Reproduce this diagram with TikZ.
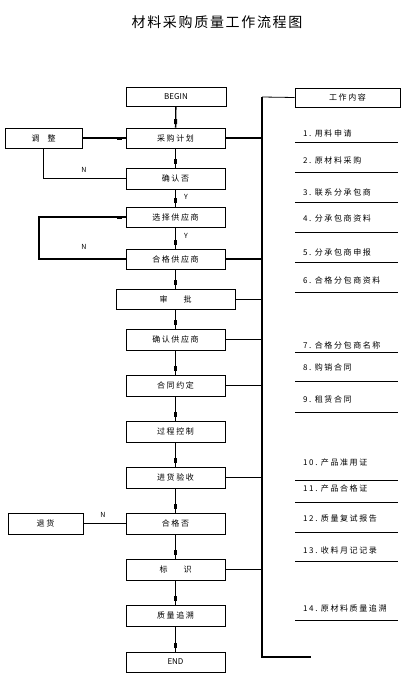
\documentclass[tikz,border=0pt]{standalone}
\usepackage{fontspec}
\setmainfont{Noto Sans CJK SC}
\newfontfamily\cjk[LetterSpace=20]{Noto Sans CJK SC}
\newfontfamily\cjktitle[LetterSpace=12]{Noto Sans CJK SC}
\usetikzlibrary{arrows.meta,positioning,decorations.markings}
\tikzset{
  box/.style={draw,line width=0.8pt,minimum width=99pt,minimum height=20pt,inner sep=1pt,font=\cjk\fontsize{8}{9}\selectfont},
  endbox/.style={box,font=\fontsize{8}{9}\selectfont},
  flow/.style={line width=1.3pt,postaction={decorate},
    decoration={markings,mark=at position -6pt with {\fill (-2.5pt,-1.5pt) rectangle (2.5pt,1.5pt);}}},
  link/.style={line width=1.6pt},
  thinlink/.style={line width=0.8pt},
  yn/.style={font=\fontsize{7}{8}\selectfont,inner sep=0pt},
  item/.style={anchor=west,inner sep=0pt,font=\cjk\fontsize{8}{9}\selectfont}
}

\begin{document}
\begin{tikzpicture}[x=1pt,y=-1pt]
\useasboundingbox (0,0) rectangle (405,690);
\node[font=\cjktitle\fontsize{14}{16}\selectfont] (title) at (217,22) {材料采购质量工作流程图};

% main flow
\node[endbox,minimum width=100pt,minimum height=19pt] (begin) at (176,97) {BEGIN};
\node[box] (plan) at (175.5,138) {采购计划};
\node[box,minimum width=77pt] (adjust) at (43.5,138) {调\quad 整};
\node[box,minimum height=21pt] (confirm) at (175.5,178.5) {确认否};
\node[box] (select) at (175.5,217) {选择供应商};
\node[box] (qualified) at (175.5,259) {合格供应商};
\node[box,minimum width=119pt] (approve) at (175.5,299) {审\qquad 批};
\node[box,minimum height=21pt] (confsup) at (175.5,339.5) {确认供应商};
\node[box,minimum height=21pt] (contract) at (175.5,385.5) {合同约定};
\node[box,minimum height=21pt] (process) at (175.5,431.5) {过程控制};
\node[box,minimum height=21pt] (receive) at (175.5,477.5) {进货验收};
\node[box,minimum height=21pt] (pass) at (175.5,523.5) {合格否};
\node[box,minimum width=75pt,minimum height=21pt] (goback) at (45.5,523.5) {退货};
\node[box,minimum height=21pt] (ident) at (175.5,569.5) {标\qquad 识};
\node[box,minimum height=21pt] (trace) at (175.5,615.5) {质量追溯};
\node[endbox] (finish) at (175.5,662) {END};
\node[box,minimum width=105pt,minimum height=19pt] (content) at (347.5,97.5) {工作内容};

\foreach \a/\b in {begin/plan,plan/confirm,confirm/select,select/qualified,qualified/approve,
  approve/confsup,confsup/contract,contract/process,process/receive,receive/pass,pass/ident,
  ident/trace,trace/finish}
  \draw[flow] (\a) -- (\b);

\draw[flow] (adjust) -- (plan);
\draw[link] (confirm.west) -| (adjust.south);
\coordinate (loopx) at (39,0);
\draw[flow,line width=1.6pt] (qualified.west) -- (qualified.west -| loopx) |- (select.west);
\draw[link] (pass) -- (goback);

\node[yn] (n1) at (84,170) {N};
\node[yn] (n2) at (84,247) {N};
\node[yn] (n3) at (103,515) {N};
\node[yn] (y1) at (186,197) {Y};
\node[yn] (y2) at (186,236) {Y};

% work content bracket
\coordinate (btop) at (262,97);
\coordinate (bbot) at (262,657);
\coordinate (bend) at (311,657);
\draw[thinlink] (content.west) -- (btop);
\draw[link] (btop) -- (bbot) -- (bend);
\foreach \n in {plan,qualified,confsup,contract,receive,ident}
  \draw[link] (\n.east) -- (\n.east -| btop);
\draw[thinlink] (approve.east) -- (approve.east -| btop);

\foreach \k/\ty/\uy/\t in {1/133/142/用料申请,2/160/172/原材料采购,3/192/202/联系分承包商,
  4/218/232/分承包商资料,5/252/262/分承包商申报,6/280/292/合格分包商资料,
  7/345/352/合格分包商名称,8/367/381/购销合同,9/399/412/租赁合同,
  10/462/480/产品准用证,11/488/502/产品合格证,12/518/532/质量复试报告,
  13/550/561/收料月记记录,14/608/620/原材料质量追溯} {
  \node[item] (w\k) at (303,\ty) {\k.\ \t};
  \draw[line width=0.8pt] (295,\uy) -- (398,\uy);
}
\end{tikzpicture}
\end{document}
